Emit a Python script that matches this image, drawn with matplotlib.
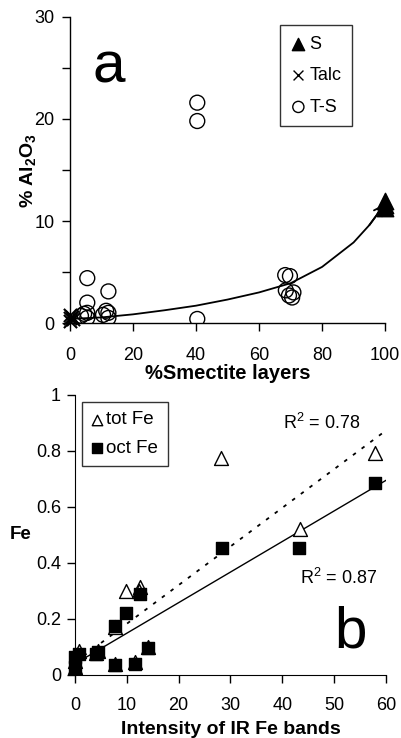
import matplotlib
matplotlib.use("Agg")
import matplotlib.pyplot as plt
import numpy as np

plt.rcParams['font.family'] = ['Liberation Sans', 'DejaVu Sans']
plt.rcParams['mathtext.fontset'] = 'custom'
plt.rcParams['mathtext.rm'] = 'Liberation Sans'
plt.rcParams['mathtext.bf'] = 'Liberation Sans:bold'

# ---- Panel a data ----
s_x = [100, 100, 100]
s_y = [12.0, 11.6, 11.3]
talc_x = [0, 0, 0, 1, 0.5]
talc_y = [0.2, 0.5, 0.8, 0.4, 0.6]
ts_x = [5.5, 5.5, 5.5, 5.5, 3.5, 4.5, 12.2, 12.2, 12.2, 10.5, 11.5,
        40.4, 40.4, 40.4, 68.3, 69.8, 70.9, 68.5, 69.5, 70.5]
ts_y = [4.4, 2.0, 1.0, 0.5, 0.7, 0.9, 3.1, 1.0, 0.5, 0.8, 1.2,
        21.6, 19.8, 0.4, 4.7, 4.6, 3.0, 3.2, 2.7, 2.5]
curve_x = [0, 10, 20, 30, 40, 50, 60, 70, 80, 90, 95, 100]
curve_y = [0.4, 0.55, 0.85, 1.25, 1.7, 2.3, 3.0, 3.9, 5.5, 7.9, 9.6, 11.7]

# ---- Panel b data ----
tot_x = [28.2, 57.8, 43.5, 9.8, 12.6, 7.8, 12.3, 4.5, 0.8, 0.0, 14.1, 7.8, 11.5, 0.0, 4.0]
tot_y = [0.774, 0.794, 0.52, 0.30, 0.315, 0.17, 0.30, 0.085, 0.085, 0.05, 0.10, 0.04, 0.045, 0.03, 0.08]
oct_x = [57.8, 28.3, 43.3, 9.8, 12.6, 7.8, 4.5, 4.0, 14.1, 7.8, 11.5, 0.8, 0.0, 0.0]
oct_y = [0.685, 0.455, 0.455, 0.22, 0.29, 0.175, 0.083, 0.075, 0.095, 0.035, 0.04, 0.075, 0.065, 0.03]
fit_x = [0, 60]
oct_fit = [0.04, 0.695]
tot_fit = [0.045, 0.873]

fig = plt.figure(figsize=(4.02, 7.38), dpi=100)

# Panel a
ax1 = fig.add_axes([0.174, 0.5623, 0.784, 0.4147])
ax1.plot(curve_x, curve_y, color='black', lw=1.3, zorder=2)
ax1.annotate('', xy=(curve_x[-1], curve_y[-1]), xytext=(curve_x[-2], curve_y[-2]),
             arrowprops=dict(arrowstyle='->', color='black', lw=1.3,
                             mutation_scale=18, shrinkA=0, shrinkB=0))
ax1.scatter(ts_x, ts_y, s=115, facecolors='none', edgecolors='black', lw=1.0,
            label='T-S', zorder=3)
ax1.scatter(talc_x, talc_y, s=90, marker='x', color='black', lw=1.5,
            label='Talc', zorder=3, clip_on=False)
ax1.scatter(s_x, s_y, s=140, marker='^', color='black', label='S', zorder=4, clip_on=False)
ax1.set_xlim(0, 100)
ax1.set_ylim(0, 30)
ax1.set_xticks([0, 20, 40, 60, 80, 100])
ax1.set_yticks([0, 10, 20, 30])
ax1.set_yticks([5, 15, 25], minor=True)
ax1.tick_params(axis='both', labelsize=13, direction='out', length=6, width=1)
ax1.tick_params(axis='x', pad=11)
ax1.tick_params(axis='y', pad=5)
ax1.tick_params(axis='y', which='minor', direction='out', length=6, width=1)
for sp in ['top', 'right']:
    ax1.spines[sp].set_visible(False)
ax1.spines['left'].set_linewidth(1.0)
ax1.spines['bottom'].set_linewidth(1.0)
ax1.set_xlabel('%Smectite layers', fontsize=14.5, fontweight='bold', labelpad=0)
ax1.set_ylabel(r'% Al$_\mathbf{2}$O$_\mathbf{3}$', fontsize=14, fontweight='bold', labelpad=-3)
ax1.text(7.3, 25.0, 'a', fontsize=42, va='center', ha='left')
h, l = ax1.get_legend_handles_labels()
order = [l.index('S'), l.index('Talc'), l.index('T-S')]
leg1 = ax1.legend([h[i] for i in order], [l[i] for i in order], loc='upper right',
                  bbox_to_anchor=(0.895, 0.974), fontsize=13, frameon=True,
                  fancybox=False, edgecolor='black', handlelength=0.8,
                  handletextpad=0.2, borderpad=0.6, labelspacing=0.8,
                  markerscale=0.75, borderaxespad=0)
leg1.get_frame().set_linewidth(1.0)
leg1.legend_handles[1].set_linewidth(1.0)

# Panel b
ax2 = fig.add_axes([0.1866, 0.0854, 0.7734, 0.3794])
ax2.plot(fit_x, oct_fit, color='black', lw=1.0, zorder=2)
ax2.plot(fit_x, tot_fit, color='black', lw=1.3, ls=(0, (2, 4)), zorder=2)
ax2.scatter(tot_x, tot_y, s=100, marker='^', facecolors='white', edgecolors='black',
            lw=1.0, label='tot Fe', zorder=3, clip_on=False)
ax2.scatter(oct_x, oct_y, s=85, marker='s', color='black', label='oct Fe', zorder=4,
            clip_on=False)
ax2.set_xlim(0, 60)
ax2.set_ylim(0, 1)
ax2.set_xticks([0, 10, 20, 30, 40, 50, 60])
ax2.set_yticks([0, 0.2, 0.4, 0.6, 0.8, 1.0])
ax2.set_yticklabels(['0', '0.2', '0.4', '0.6', '0.8', '1'])
ax2.tick_params(axis='both', labelsize=13, direction='out', length=6, width=1)
ax2.tick_params(axis='x', pad=10)
ax2.tick_params(axis='y', pad=4)
for sp in ['top', 'right']:
    ax2.spines[sp].set_visible(False)
ax2.set_xlabel('Intensity of IR Fe bands', fontsize=14, fontweight='bold', labelpad=5)
ax2.set_ylabel('Fe', fontsize=13.5, fontweight='bold', rotation=0, labelpad=11, va='center')
ax2.text(40.1, 0.90, r'R$^2$ = 0.78', fontsize=13, va='center', ha='left')
ax2.text(43.4, 0.345, r'R$^2$ = 0.87', fontsize=13, va='center', ha='left')
ax2.text(50.0, 0.15, 'b', fontsize=42, va='center', ha='left')
leg2 = ax2.legend(loc='upper left', bbox_to_anchor=(0.0225, 0.975), fontsize=13.5,
                  frameon=True, fancybox=False, edgecolor='black', handlelength=0.6,
                  handletextpad=0.2, borderpad=0.5, labelspacing=0.6, markerscale=0.75,
                  borderaxespad=0)
leg2.get_frame().set_linewidth(1.0)

fig.savefig('out.png', dpi=100)
